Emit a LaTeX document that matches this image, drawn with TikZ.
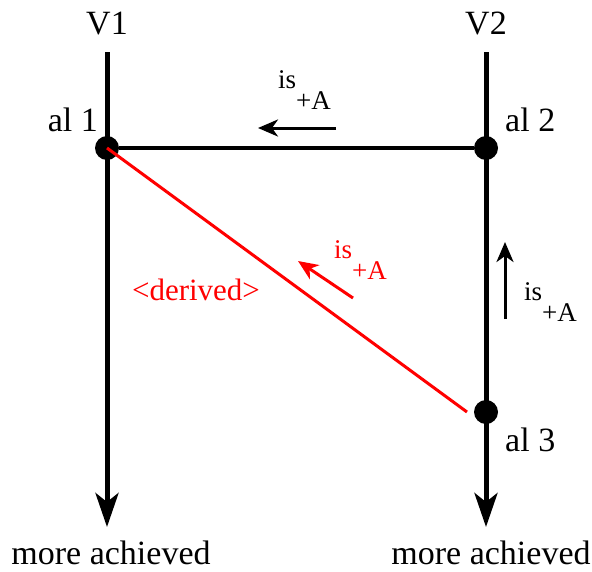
\documentclass[tikz,border=0pt]{standalone}
\usepackage{fontspec}
\setmainfont{Liberation Serif}
\usetikzlibrary{arrows.meta}
\begin{document}
\begin{tikzpicture}[x=1pt,y=-1pt,
  big/.style={line width=5pt,-{Stealth[length=34pt,width=23pt,inset=9pt]}},
  small/.style={line width=3pt,-{Stealth[length=20pt,width=17pt,inset=6pt]}},
  lbl/.style={font=\fontsize{34}{40}\selectfont,inner sep=0pt,anchor=base},
  sub/.style={font=\fontsize{27}{32}\selectfont,inner sep=0pt,anchor=base west},
  dot/.style={circle,fill=black,minimum size=24pt,inner sep=0pt}]
\useasboundingbox (0,0) rectangle (592,571);
\coordinate (t1) at (107,52);
\coordinate (t2) at (486,52);
\coordinate (b1) at (107,527);
\coordinate (b2) at (486,527);
\node[dot] (a1) at (107,148) {};
\node[dot] (a2) at (486,148) {};
\node[dot] (a3) at (486,412) {};
\draw[big] (t1) -- (b1);
\draw[big] (t2) -- (b2);
\draw[line width=3.5pt] (a1) -- (a2);
\coordinate (rend) at (467,412);
\draw[red,line width=3pt] (a1.center) -- (rend);
\node[lbl] (v1) at (107,34) {V1};
\node[lbl] (v2) at (486,34) {V2};
\node[lbl,anchor=base east] (l1) at (98,131) {al 1};
\node[lbl,anchor=base west] (l2) at (505,131) {al 2};
\node[lbl,anchor=base west] (l3) at (505,451) {al 3};
\node[lbl] (m1) at (111,564) {more achieved};
\node[lbl] (m2) at (491,564) {more achieved};
\node[lbl,red,font=\fontsize{31}{36}\selectfont] (der) at (196,300) {<derived>};
% is_+A labels
\coordinate (h1) at (336,128); \coordinate (h2) at (258,128);
\draw[small] (h1) -- (h2);
\node[sub] (s1) at (278,88) {is\raisebox{-21pt}{+A}};
\coordinate (r1) at (353,298); \coordinate (r2) at (298,261);
\draw[small,red,line width=3pt] (r1) -- (r2);
\node[sub,red] (s2) at (334,258) {is\raisebox{-21pt}{+A}};
\coordinate (u1) at (505,319); \coordinate (u2) at (505,242);
\draw[small] (u1) -- (u2);
\node[sub] (s3) at (524,300) {is\raisebox{-21pt}{+A}};
\end{tikzpicture}
\end{document}
